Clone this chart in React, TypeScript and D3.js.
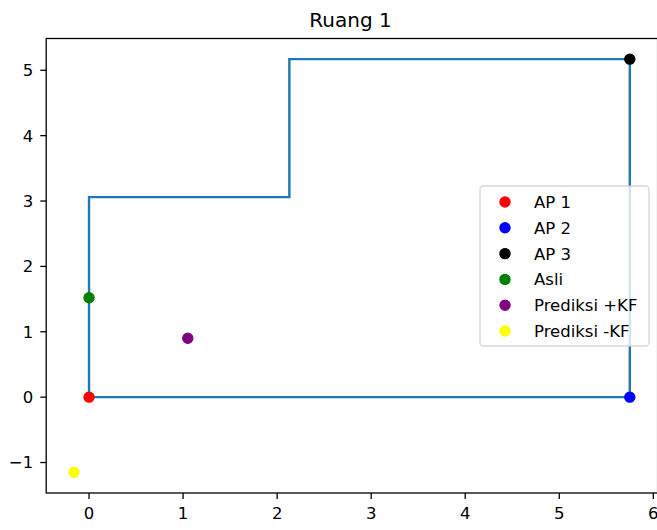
import * as d3 from 'd3';
import React from 'react';

// room outline (x, y)
const roomX = [0, 0, 2.13, 2.13, 5.75, 5.75, 0];
const roomY = [0, 3.06, 3.06, 5.17, 5.17, 0, 0];

const pointLabels = ['AP 1', 'AP 2', 'AP 3', 'Asli', 'Prediksi +KF', 'Prediksi -KF'];
const pointX = [0, 5.75, 5.75, 0, 1.05, -0.16];
const pointY = [0, 0, 5.17, 1.52, 0.9, -1.15];
const pointColors = ['red', 'blue', 'black', 'green', 'purple', 'yellow'];

const xTicks = [0, 1, 2, 3, 4, 5, 6];
const yTicks = [-1, 0, 1, 2, 3, 4, 5];

const W = 657;
const H = 530;
const font = 'DejaVu Sans, sans-serif';

const pad = (lo: number, hi: number): [number, number] => {
  const m = (hi - lo) * 0.05;
  return [lo - m, hi + m];
};

const App = () => {
  const xs = [...roomX, ...pointX];
  const ys = [...roomY, ...pointY];
  const xDom = pad(d3.min(xs)!, d3.max(xs)!);
  const yDom = pad(d3.min(ys)!, d3.max(ys)!);

  const x = d3.scaleLinear().domain(xDom).range([46.2, 657.6]);
  const y = d3.scaleLinear().domain(yDom).range([493, 38.5]);
  const fmt = d3.format('d');

  const line = d3.line<number>()
    .x((_, i) => x(roomX[i]))
    .y((_, i) => y(roomY[i]));

  const [left, right] = x.range();
  const [bottom, top] = y.range();

  const lgX = 480, lgY = 186, lgW = 169, lgH = 160, rowH = 25.8;
  const tickLen = 5.9;

  return (
    <svg width={W} height={H} style={{ position: 'absolute', left: 0, top: 0, background: '#fff' }}
      fontFamily={font}>
      <rect x={0} y={0} width={W} height={H} fill="#fff" />
      <text x={350.5} y={26.7} textAnchor="middle" fontSize={20} fill="#000">Ruang 1</text>

      <path d={line(roomX) ?? ''} fill="none" stroke="#1f77b4" strokeWidth={2.4} />

      {pointX.map((px, i) => (
        <circle key={i} cx={x(px)} cy={y(pointY[i])} r={5.1} fill={pointColors[i]}
          stroke={pointColors[i]} strokeWidth={1.2} />
      ))}

      <rect x={left} y={top} width={right - left} height={bottom - top} fill="none"
        stroke="#000" strokeWidth={1.3} />

      {xTicks.map(t => (
        <g key={t} transform={`translate(${x(t)},${bottom})`}>
          <line y2={tickLen} stroke="#000" strokeWidth={1.3} />
          <text y={25.5} textAnchor="middle" fontSize={16.5} fill="#000">{fmt(t)}</text>
        </g>
      ))}
      {yTicks.map(t => (
        <g key={t} transform={`translate(${left},${y(t)})`}>
          <line x2={-tickLen} stroke="#000" strokeWidth={1.3} />
          <text x={-13} dy="0.36em" textAnchor="end" fontSize={16.5} fill="#000">{fmt(t)}</text>
        </g>
      ))}

      <g>
        <rect x={lgX} y={lgY} width={lgW} height={lgH} rx={3.5} fill="#fff" fillOpacity={0.8}
          stroke="#cccccc" strokeOpacity={0.8} strokeWidth={1.3} />
        {pointLabels.map((lab, i) => (
          <g key={lab} transform={`translate(0,${lgY + 16 + i * rowH})`}>
            <circle cx={505} cy={0} r={5.1} fill={pointColors[i]} stroke={pointColors[i]} strokeWidth={1.2} />
            <text x={534} dy="0.36em" fontSize={16.5} fill="#000">{lab}</text>
          </g>
        ))}
      </g>
    </svg>
  );
};

export default App;
